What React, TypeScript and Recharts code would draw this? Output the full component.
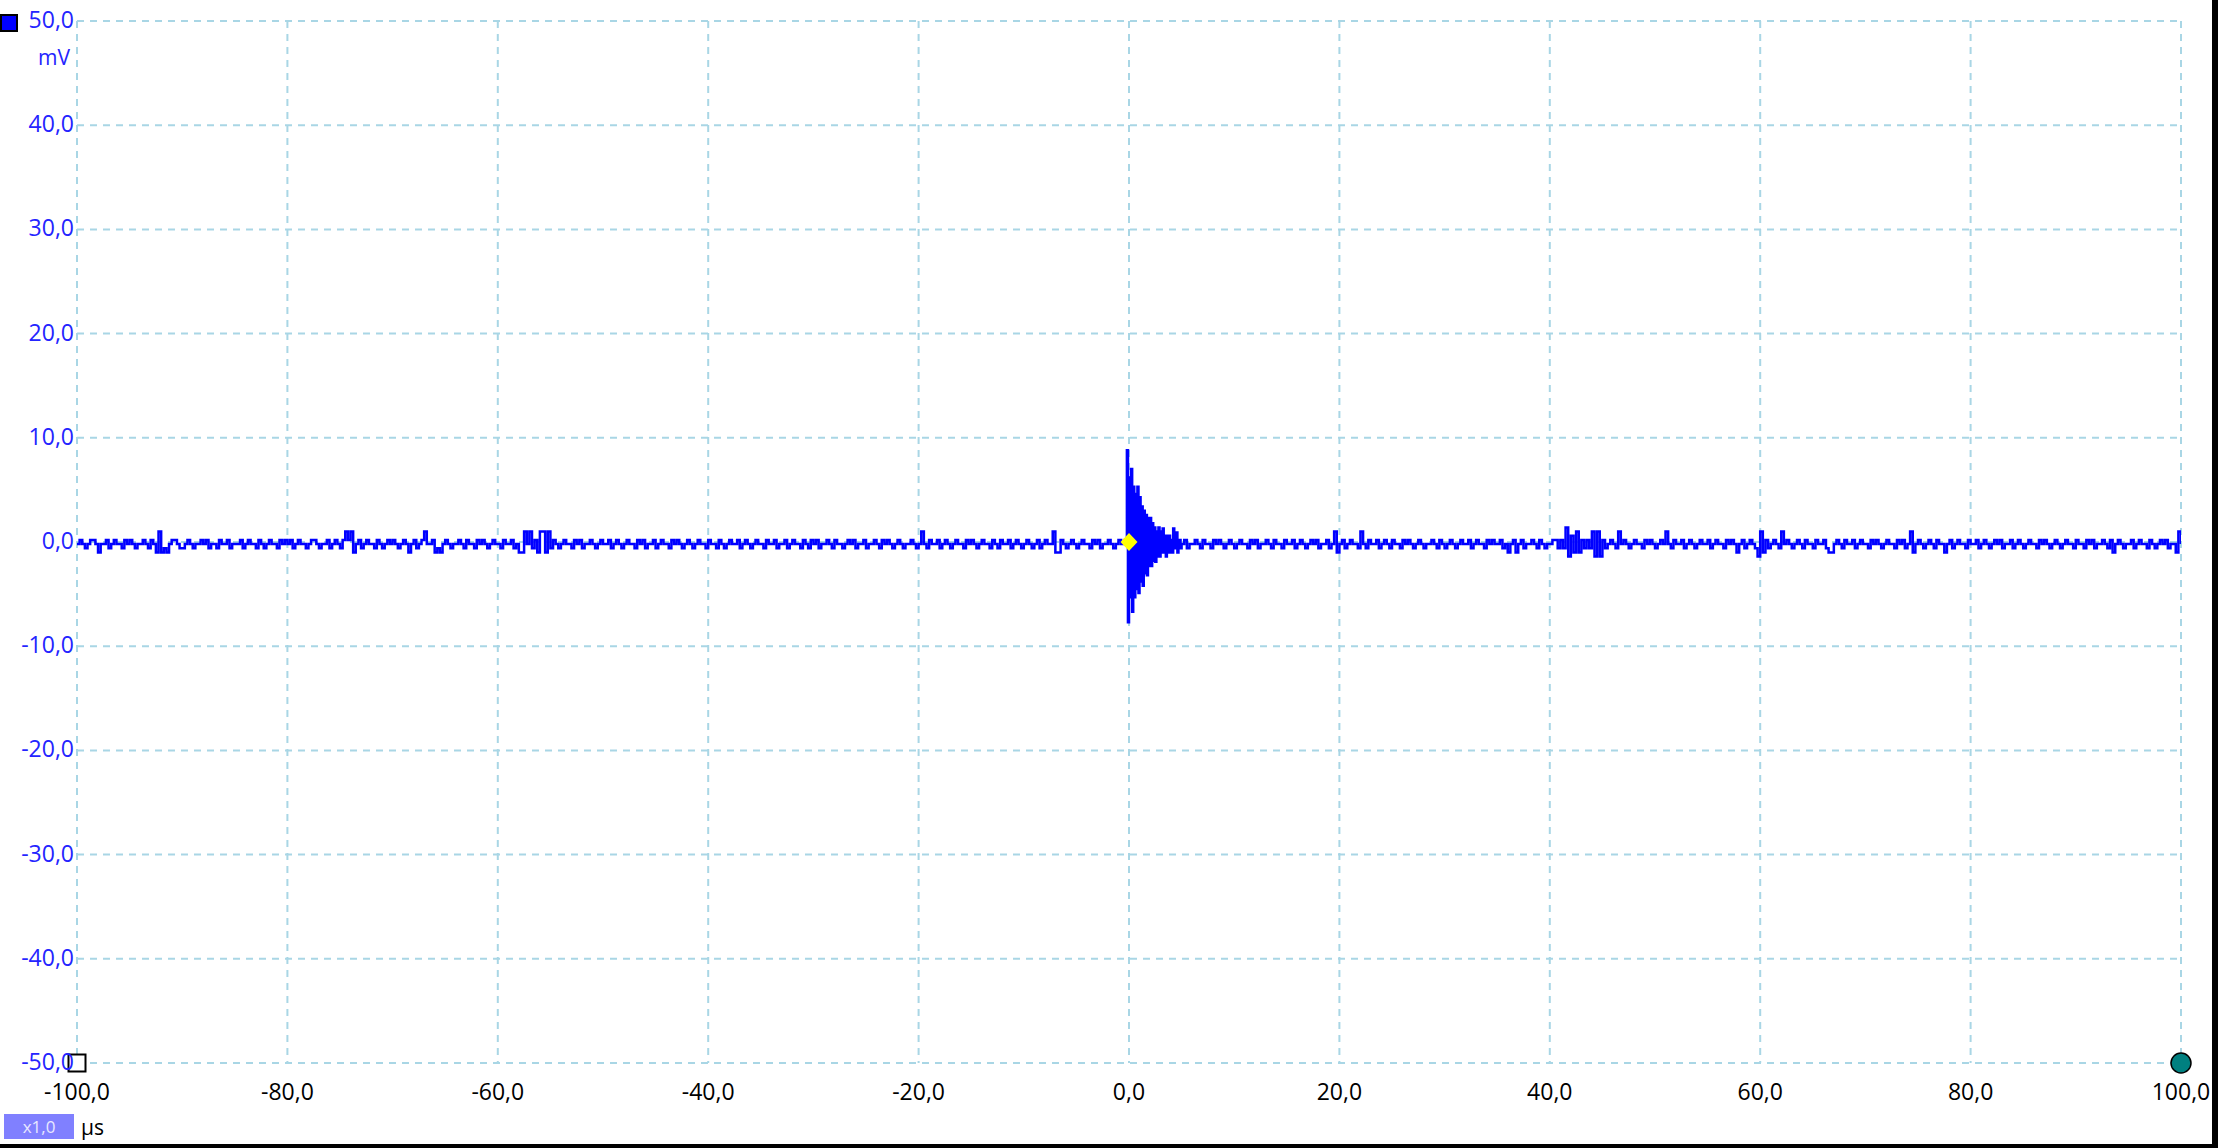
import { LineChart, Line, XAxis, YAxis, CartesianGrid, ReferenceDot } from "recharts";

// sampled trace, mV. noise part every 0.25 µs, ring-down around the trigger every 0.1 µs
const preStartUs = -100;
const noiseStepUs = 0.25;
const preTriggerMv = [
  -0.2, 0.2, -0.2, -0.6, -0.2, 0.2, 0.2, -0.2, -1.0, -0.2, -0.2, 0.2, -0.6, -0.2, 0.2, -0.2, -0.2, -0.6, 0.2, -0.2,
  0.2, -0.2, -0.6, -0.2, -0.2, 0.2, -0.2, -0.6, 0.2, -0.2, -1.0, 1.0, -1.0, -0.6, -1.0, -0.2, 0.2, 0.2, -0.2, -0.6,
  -0.6, -0.2, 0.2, -0.2, -0.6, -0.2, -0.2, 0.2, -0.2, 0.2, -0.6, -0.2, -0.2, -0.6, 0.2, -0.2, -0.2, 0.2, -0.6, -0.2,
  -0.2, -0.2, 0.2, -0.6, -0.2, 0.2, -0.2, -0.2, -0.6, 0.2, -0.2, -0.6, -0.2, 0.2, -0.2, -0.2, -0.6, 0.2, -0.2, 0.2,
  -0.2, 0.2, -0.6, -0.2, 0.2, -0.2, -0.2, -0.6, -0.2, 0.2, 0.2, -0.2, -0.6, -0.2, -0.2, 0.2, -0.6, -0.2, 0.2, -0.2,
  -0.6, 0.2, 1.0, 0.2, 1.0, -1.0, -0.2, 0.2, -0.6, -0.2, 0.2, -0.2, -0.2, -0.6, 0.2, -0.2, -0.6, -0.2, 0.2, -0.2,
  0.2, -0.2, -0.6, -0.2, 0.2, -0.2, -1.0, -0.2, 0.2, -0.6, -0.2, 0.2, 1.0, -0.2, -0.2, 0.2, -1.0, -0.6, -1.0, -0.2,
  0.2, -0.2, -0.6, -0.2, -0.2, 0.2, -0.2, -0.6, 0.2, -0.2, -0.2, -0.6, 0.2, -0.2, 0.2, -0.2, -0.6, -0.2, 0.2, -0.2,
  -0.2, -0.6, 0.2, -0.2, -0.2, 0.2, -0.6, -0.2, -1.0, -1.0, 1.0, -0.2, 1.0, -0.6, 0.2, -1.0, 1.0, 1.0, -1.0, 1.0,
  -0.6, 0.2, -0.2, -0.6, -0.2, 0.2, -0.2, -0.2, -0.6, 0.2, -0.2, 0.2, -0.6, -0.2, -0.2, 0.2, -0.2, -0.6, -0.2, 0.2,
  -0.2, -0.2, 0.2, -0.6, -0.2, 0.2, -0.2, -0.6, -0.2, 0.2, -0.2, -0.2, -0.6, 0.2, -0.2, 0.2, -0.6, -0.2, -0.2, 0.2,
  -0.6, -0.2, 0.2, -0.2, -0.2, -0.6, 0.2, -0.2, 0.2, -0.2, -0.6, -0.2, 0.2, -0.2, -0.6, -0.2, 0.2, -0.2, -0.2, -0.6,
  0.2, -0.2, -0.2, -0.6, 0.2, -0.2, -0.6, -0.2, 0.2, -0.2, -0.2, 0.2, -0.6, -0.2, 0.2, -0.2, -0.6, -0.2, 0.2, -0.2,
  -0.2, -0.6, 0.2, -0.2, -0.2, 0.2, -0.6, -0.2, -0.2, 0.2, -0.6, -0.2, 0.2, -0.2, -0.2, -0.6, 0.2, -0.2, -0.6, 0.2,
  -0.2, 0.2, -0.6, -0.2, -0.2, 0.2, -0.2, -0.6, 0.2, -0.2, -0.2, -0.6, -0.2, 0.2, -0.2, 0.2, -0.6, -0.2, -0.2, 0.2,
  -0.6, -0.2, -0.2, 0.2, -0.2, -0.6, 0.2, -0.2, 0.2, -0.2, -0.6, -0.2, 0.2, -0.2, -0.6, -0.2, -0.2, 0.2, -0.2, -0.6,
  -0.2, 1.0, -0.2, -0.6, 0.2, -0.2, -0.2, 0.2, -0.6, -0.2, 0.2, -0.2, -0.6, -0.2, 0.2, -0.2, -0.2, -0.6, 0.2, -0.2,
  0.2, -0.2, -0.6, -0.2, 0.2, -0.2, -0.2, -0.6, 0.2, -0.2, -0.6, 0.2, -0.2, -0.2, 0.2, -0.6, -0.2, 0.2, -0.2, -0.6,
  -0.2, 0.2, -0.2, -0.6, -0.2, 0.2, -0.6, -0.2, 0.2, -0.2, -0.2, 1.0, -1.0, -1.0, 0.2, -0.2, -0.6, -0.2, 0.2, -0.2,
  -0.6, -0.2, 0.2, -0.2, -0.2, -0.6, 0.2, -0.2, 0.2, -0.6, -0.2, -0.2, 0.2, -0.2, -0.6, -0.2, 0.2, -0.2,
];

const burstStartUs = -0.5;
const burstStepUs = 0.1;
const burstMv = [
  -0.2, 0.2, -0.2, 8.8, -7.7, 6.2, -5.3, 7.0, -6.7, 5.3,
  -5.3, 4.6, -4.5, 5.3, -4.9, 4.3, -3.8, 3.4, -4.2, 3.0,
  -3.0, 2.6, -3.2, 2.3, -2.3, 2.3, -2.3, 1.8, -1.8, 1.4,
  -1.9, 1.0, -1.4, 1.4, -1.4, 1.0, -1.0, 1.3, -1.0, 0.6,
  -1.4, 0.6, -1.0, 0.6, -1.0, 0.2, -1.0, 1.3, -0.6, 0.2,
  0.9, -1.0, -0.2, 0.2, -0.6,
];

const postStartUs = 5;
const postTriggerMv = [
  -0.2, 0.2, -0.6, -0.2, -0.2, 0.2, -0.2, -0.6, 0.2, -0.2, -0.2, -0.6, 0.2, -0.2, 0.2, -0.2, -0.6, -0.2, 0.2, -0.2,
  -0.6, -0.2, 0.2, -0.2, -0.2, -0.6, 0.2, -0.2, 0.2, -0.6, -0.2, -0.2, 0.2, -0.2, -0.6, 0.2, -0.2, -0.2, -0.6, 0.2,
  -0.2, -0.2, 0.2, -0.6, -0.2, 0.2, -0.2, -0.6, -0.2, 0.2, -0.2, 0.2, -0.6, -0.2, -0.2, 0.2, -0.6, -0.2, 1.0, -1.0,
  -0.2, 0.2, -0.6, -0.2, 0.2, -0.2, -0.2, -0.6, 1.0, -0.2, -0.6, 0.2, -0.2, -0.2, 0.2, -0.6, -0.2, 0.2, -0.2, -0.6,
  0.2, -0.2, -0.2, -0.6, 0.2, -0.2, 0.2, -0.2, -0.6, -0.2, 0.2, -0.2, -0.6, -0.2, -0.2, 0.2, -0.2, -0.6, 0.2, -0.2,
  -0.6, -0.2, 0.2, -0.2, -0.6, -0.2, 0.2, -0.2, -0.2, 0.2, -0.6, -0.2, 0.2, -0.2, -0.2, -0.6, 0.2, -0.2, 0.2, -0.2,
  -0.2, 0.2, -0.6, -0.2, -1.0, -0.2, 0.2, -1.0, -0.2, 0.2, -0.6, -0.2, -0.2, 0.2, -0.2, -0.6, 0.2, -0.2, -0.6, -0.2,
  -0.2, 0.2, 0.2, -0.6, 0.2, -0.6, 1.4, -1.4, 0.6, -1.0, 1.0, -1.0, 0.2, -0.6, 0.2, -0.6, 1.0, -1.4, 1.0, -1.4,
  0.2, -0.6, -0.2, 0.2, -0.2, -0.6, 1.0, -0.2, 0.2, -0.2, -0.6, -0.2, 0.2, -0.2, -0.2, -0.6, 0.2, -0.2, 0.2, -0.2,
  -0.6, -0.2, 0.2, -0.2, 1.0, -0.2, -0.6, 0.2, -0.2, -0.2, 0.2, -0.6, -0.2, 0.2, -0.2, -0.6, -0.2, 0.2, -0.2, -0.2,
  0.2, -0.6, -0.2, 0.2, -0.2, -0.2, -0.6, 0.2, -0.2, 0.2, -0.2, -1.0, -0.2, 0.2, -0.6, -0.2, 0.2, -0.2, -0.6, -1.4,
  1.0, -1.0, 0.2, -0.6, -0.2, 0.2, -0.2, -0.6, 1.0, -0.2, 0.2, -0.2, -0.6, -0.2, 0.2, -0.2, -0.6, 0.2, -0.2, -0.2,
  -0.6, 0.2, -0.2, -0.2, 0.2, -0.6, -1.0, -1.0, -0.2, 0.2, -0.2, -0.6, 0.2, -0.2, -0.2, 0.2, -0.6, -0.2, 0.2, -0.2,
  -0.2, -0.6, 0.2, -0.2, 0.2, -0.2, -0.6, -0.2, 0.2, -0.2, -0.2, -0.6, 0.2, -0.2, 0.2, -0.6, -0.2, 1.0, -1.0, -0.2,
  0.2, -0.2, -0.6, -0.2, 0.2, -0.2, -0.6, 0.2, -0.2, -0.2, -1.0, -0.2, 0.2, -0.6, -0.2, 0.2, -0.2, -0.2, -0.6, 0.2,
  -0.2, -0.2, 0.2, -0.6, -0.2, 0.2, -0.2, -0.6, -0.2, 0.2, -0.2, 0.2, -0.6, -0.2, -0.2, 0.2, -0.6, -0.2, 0.2, -0.2,
  -0.6, -0.2, 0.2, -0.2, -0.2, -0.6, 0.2, -0.2, 0.2, -0.2, -0.6, -0.2, 0.2, -0.2, -0.6, -0.2, 0.2, -0.2, -0.2, -0.6,
  0.2, -0.2, -0.2, -0.6, 0.2, -0.2, 0.2, -0.6, -0.2, -0.2, 0.2, -0.2, -0.6, 0.2, -1.0, -0.2, 0.2, -0.2, -0.6, -0.2,
  -0.2, 0.2, -0.6, -0.2, 0.2, -0.2, -0.2, -0.6, 0.2, -0.2, -0.6, -0.2, 0.2, -0.2, 0.2, -0.6, -0.2, -0.2, -1.0, 1.0,
  -0.2,
];

const xTicksUs = [-100, -80, -60, -40, -20, 0, 20, 40, 60, 80, 100];
const yTicksMv = [-50, -40, -30, -20, -10, 0, 10, 20, 30, 40, 50];

const toPoints = (start: number, step: number, values: number[]) =>
  values.map((v, i) => ({ t: Math.round((start + i * step) * 100) / 100, v }));

const data = [
  ...toPoints(preStartUs, noiseStepUs, preTriggerMv),
  ...toPoints(burstStartUs, burstStepUs, burstMv),
  ...toPoints(postStartUs, noiseStepUs, postTriggerMv),
];

const fmt = (n: number) => n.toFixed(1).replace(".", ",");
const FONT = '"Open Sans", "Noto Sans", sans-serif';

const YTick = (props: any) => {
  const { x, y, payload } = props;
  return (
    <text x={x} y={y + 7} textAnchor="end" fill="#2424ff" fontSize={23} fontFamily={FONT}>
      {fmt(payload.value)}
    </text>
  );
};

const XTick = (props: any) => {
  const { x, y, payload } = props;
  return (
    <text x={x} y={y + 37} textAnchor="middle" fill="#000" fontSize={23} fontFamily={FONT}>
      {fmt(payload.value)}
    </text>
  );
};

const squareMarker = (p: any) => (
  <rect x={p.cx - 8.5} y={p.cy - 8.5} width={17} height={17} fill="#fff" stroke="#000" strokeWidth={2} />
);

const diamondMarker = (p: any) => (
  <polygon
    points={`${p.cx},${p.cy - 9} ${p.cx + 8.5},${p.cy} ${p.cx},${p.cy + 9} ${p.cx - 8.5},${p.cy}`}
    fill="#ffff00"
  />
);

export default function App() {
  return (
    <div
      style={{
        position: "fixed",
        left: 0,
        top: 0,
        width: 2218,
        height: 1148,
        background: "#fff",
        overflow: "hidden",
        fontFamily: FONT,
      }}
    >
      <LineChart
        width={2218}
        height={1148}
        data={data}
        margin={{ top: 21, right: 37, bottom: 45, left: 0 }}
      >
        <CartesianGrid stroke="#a9d6e5" strokeWidth={2} strokeDasharray="7 6" />
        <XAxis
          dataKey="t"
          type="number"
          domain={[-100, 100]}
          ticks={xTicksUs}
          interval={0}
          axisLine={false}
          tickLine={false}
          tickSize={0}
          tickMargin={0}
          height={40}
          tick={<XTick />}
          allowDataOverflow
        />
        <YAxis
          type="number"
          domain={[-50, 50]}
          ticks={yTicksMv}
          interval={0}
          axisLine={false}
          tickLine={false}
          tickSize={0}
          tickMargin={3}
          width={77}
          tick={<YTick />}
          allowDataOverflow
        />
        <Line
          type="stepAfter"
          dataKey="v"
          stroke="#0000ff"
          strokeWidth={2.5}
          dot={false}
          isAnimationActive={false}
        />
        <ReferenceDot x={0} y={0} ifOverflow="visible" shape={diamondMarker} />
        <ReferenceDot x={-100} y={-50} ifOverflow="visible" shape={squareMarker} />
        <ReferenceDot
          x={100}
          y={-50}
          r={10}
          fill="#008080"
          stroke="#000"
          strokeWidth={1.5}
          ifOverflow="visible"
        />
      </LineChart>

      <svg
        width={2218}
        height={1148}
        style={{ position: "absolute", left: 0, top: 0, pointerEvents: "none" }}
      >
        <rect x={1} y={15} width={16} height={16} fill="#0000ff" stroke="#000" strokeWidth={2} />
        <text x={70} y={65} textAnchor="end" fill="#2424ff" fontSize={21} fontFamily={FONT}>
          mV
        </text>
        <rect x={4} y={1114} width={70} height={25} fill="#8080ff" />
        <text x={39} y={1133} textAnchor="middle" fill="#e8e8ff" fontSize={17} fontFamily={FONT}>
          x1,0
        </text>
        <text x={81} y={1135} fill="#000" fontSize={21} fontFamily={FONT}>
          µs
        </text>
        <rect x={2212} y={0} width={6} height={1148} fill="#000" />
        <rect x={0} y={1144} width={2218} height={4} fill="#000" />
      </svg>
    </div>
  );
}
